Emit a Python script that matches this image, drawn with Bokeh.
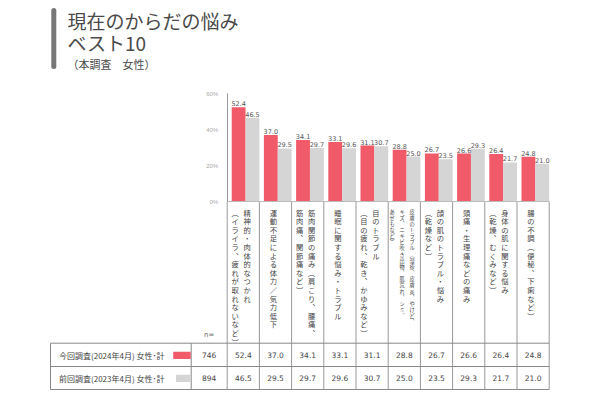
from bokeh.plotting import figure
from bokeh.models import Range1d, LinearAxis, FixedTicker, PrintfTickFormatter, ColumnDataSource
from bokeh.core.properties import value
from bokeh.embed import file_html
from bokeh.resources import INLINE

# ---------------- data ----------------
categories = [
    ["精神的・肉体的なつかれ", "（イライラ、疲れが取れないなど）"],
    ["運動不足による体力／気力低下"],
    ["筋肉関節の痛み（肩こり、腰痛、", "筋肉痛、関節痛など）"],
    ["睡眠に関する悩み・トラブル"],
    ["目のトラブル", "（目の疲れ、乾き、かゆみなど）"],
    ["皮膚のトラブル（湿疹、皮膚炎、やけど、", "キズ、ニキビ吹き出物、肌荒れ、シミ、", "あせもなど）"],
    ["顔の肌のトラブル・悩み", "（乾燥など）"],
    ["頭痛・生理痛などの痛み"],
    ["身体の肌に関する悩み", "（乾燥、むくみなど）"],
    ["腸の不調（便秘、下痢など）"],
]
current = [52.4, 37.0, 34.1, 33.1, 31.1, 28.8, 26.7, 26.6, 26.4, 24.8]
previous = [46.5, 29.5, 29.7, 29.6, 30.7, 25.0, 23.5, 29.3, 21.7, 21.0]
n_current = 746
n_previous = 894
series_labels = ["今回調査(2024年4月)  女性･計", "前回調査(2023年4月)  女性･計"]
y_ticks = [0, 20, 40, 60]
title_lines = ["現在のからだの悩み", "ベスト10"]
subtitle = "（本調査　女性）"

# ---------------- layout helpers ----------------
W, H = 600, 400
COL = 32.2      # px per column
X0 = 226.7      # page x of first column's left edge
Y0 = 201.0      # page y of 0%
PPU = 1.8       # px per percent

def X(px):
    return (px - X0) / COL

def Y(py):
    return (Y0 - py) / PPU

RED = "#F05A69"
GREY = "#D5D5D5"
JP = value("Noto Sans CJK JP")
NUM = value("DejaVu Sans")
TXT = "#4a4a4a"

p = figure(width=W, height=H,
           x_range=Range1d(-X0 / COL, (W - X0) / COL),
           y_range=Range1d((Y0 - H) / PPU, Y0 / PPU),
           x_axis_type=None, y_axis_type=None,
           toolbar_location=None, output_backend="svg",
           min_border=0, outline_line_color=None)
p.background_fill_color = "white"

# y axis
ax = LinearAxis(fixed_location=0, bounds=(0, 60),
                ticker=FixedTicker(ticks=y_ticks),
                formatter=PrintfTickFormatter(format="%d%%"),
                axis_line_color="#999999",
                major_tick_line_color=None, minor_tick_line_color=None,
                major_label_text_font_size="6px",
                major_label_text_color="#aaaaaa",
                major_label_standoff=3)
p.add_layout(ax, "left")

ncat = len(current)
# bars
cur_src = ColumnDataSource(dict(x=[i + 0.355 for i in range(ncat)], top=current,
                                lab=[f"{v:.1f}" for v in current]))
prev_src = ColumnDataSource(dict(x=[i + 0.785 for i in range(ncat)], top=previous,
                                 lab=[f"{v:.1f}" for v in previous]))
p.vbar(x="x", top="top", bottom=0, width=0.43, source=cur_src, fill_color=RED, line_color=None)
p.vbar(x="x", top="top", bottom=0, width=0.43, source=prev_src, fill_color=GREY, line_color=None)
for src in (cur_src, prev_src):
    p.text(x="x", y="top", text="lab", source=src, text_align="center",
           text_baseline="bottom", y_offset=-1, text_font=NUM,
           text_font_size="6.5px", text_color="#555555")

# separators in label area + baseline
p.segment(x0=[i for i in range(ncat + 1)], y0=[0] * (ncat + 1),
          x1=[i for i in range(ncat + 1)], y1=[Y(389)] * (ncat + 1),
          line_color="#999999", line_width=1)
p.segment(x0=[0], y0=[0], x1=[ncat], y1=[0], line_color="#bbbbbb", line_width=1)

# vertical category labels
vmap = {"（": "︵", "）": "︶", "、": "︑"}
groups = {False: dict(x=[], y=[], t=[]), True: dict(x=[], y=[], t=[])}
for i, lines in enumerate(categories):
    small = max(len(l) for l in lines) > 17
    pitch = (10 if small else 12) / COL
    k = len(lines)
    center = i + 14 / COL
    for j, line in enumerate(lines):
        g = groups[small]
        g["x"].append(center + (k - 1) / 2 * pitch - j * pitch)
        g["y"].append(Y(207))
        g["t"].append("\n".join(vmap.get(c, c) for c in line))
for small_flag, g in groups.items():
    p.text(x="x", y="y", text="t", source=ColumnDataSource(g), text_font=JP,
           text_font_size="5.2px" if small_flag else "7.3px",
           text_align="center", text_baseline="top",
           text_line_height=0.88 if small_flag else 0.86,
           text_color="#444444")

# table
tl, tr = X(50), ncat
rows_y = [Y(342.7), Y(366), Y(389)]
p.segment(x0=[tl] * 3, y0=rows_y, x1=[tr] * 3, y1=rows_y, line_color="#888888", line_width=1)
p.segment(x0=[tl, X(190.7)], y0=[rows_y[0]] * 2, x1=[tl, X(190.7)], y1=[rows_y[2]] * 2,
          line_color="#888888", line_width=1)
row_mid = [Y(354.5), Y(377.5)]
p.text(x=[X(208.7)], y=[Y(334)], text=["n="], text_align="center", text_baseline="middle",
       text_font=NUM, text_font_size="7px", text_color="#666666")
p.text(x=[X(58.5)] * 2, y=row_mid, text=series_labels, text_align="left",
       text_baseline="middle", text_font=JP, text_font_size="8px", text_color="#444444")
p.quad(left=[X(172.7), X(175.5)], right=[X(190.2)] * 2,
       top=[Y(351.2), Y(374.2)], bottom=[Y(358.6), Y(381.6)],
       fill_color=[RED, GREY], line_color=None)
p.text(x=[X(208.7)] * 2, y=row_mid, text=[str(n_current), str(n_previous)],
       text_align="center", text_baseline="middle", text_font=NUM,
       text_font_size="7.5px", text_color="#444444")
tab_x = [i + 0.5 for i in range(ncat)]
p.text(x=tab_x, y=[row_mid[0]] * ncat, text=[f"{v:.1f}" for v in current],
       text_align="center", text_baseline="middle", text_font=NUM,
       text_font_size="7.5px", text_color="#444444")
p.text(x=tab_x, y=[row_mid[1]] * ncat, text=[f"{v:.1f}" for v in previous],
       text_align="center", text_baseline="middle", text_font=NUM,
       text_font_size="7.5px", text_color="#444444")

# title
p.segment(x0=[X(53.3)], y0=[Y(10)], x1=[X(53.3)], y1=[Y(66)],
          line_color="#777777", line_width=5, line_cap="round")
p.text(x=[X(67)] * 2, y=[Y(19.5), Y(42)], text=title_lines, text_align="left",
       text_baseline="middle", text_font=JP, text_font_size="19px", text_color=TXT)
p.text(x=[X(67)], y=[Y(63.5)], text=[subtitle], text_align="left",
       text_baseline="middle", text_font=JP, text_font_size="11px", text_color=TXT)

open("out.html", "w").write(file_html(p, INLINE))
